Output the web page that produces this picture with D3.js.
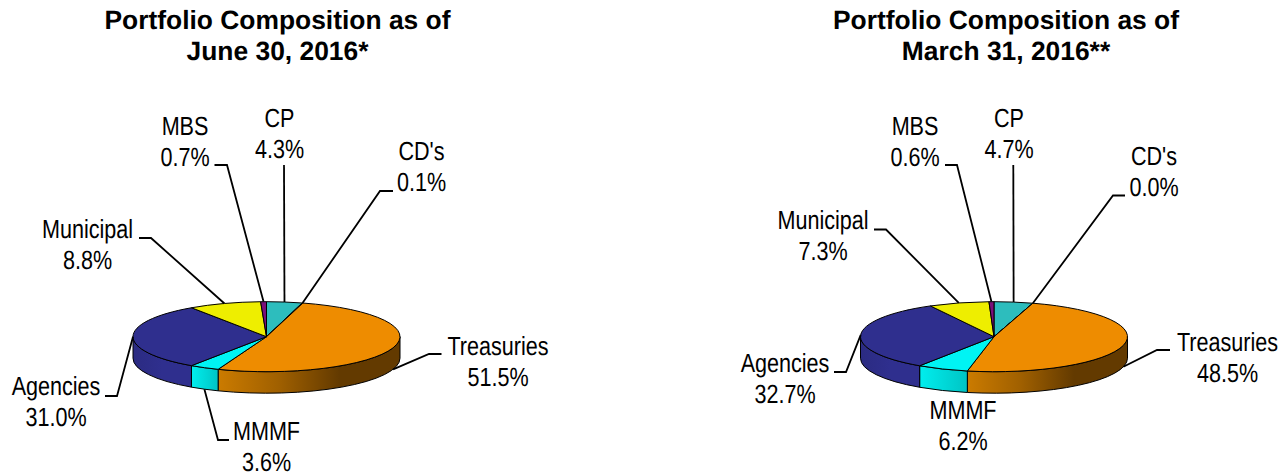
<!DOCTYPE html>
<html lang="en">
<head>
<meta charset="UTF-8">
<title>Portfolio Composition</title>
<script src="https://d3js.org/d3.v7.min.js"></script>
<style>
    html, body { margin: 0; padding: 0; background: #fff; }
    svg { display: block; }
    text { font-family: "Liberation Sans", Arial, sans-serif; fill: #000; text-rendering: geometricPrecision; }
</style>
</head>
<body>
<div id="plot"></div>
<script>
    // data
    var categories = ["CP", "CD's", "Treasuries", "MMMF", "Agencies", "Municipal", "MBS"];
    var june2016 = [4.3, 0.1, 51.5, 3.6, 31.0, 8.8, 0.7];
    var march2016 = [4.7, 0.0, 48.5, 6.2, 32.7, 7.3, 0.6];

    // colours per category
    var topColors = ["#2dbdbd", "#2dbdbd", "#ee8c00", "#00f4f4", "#2f2f8e", "#eeee00", "#7a0f7a"];
    var sideStops = [
        ["#2dbdbd", "#2dbdbd"], ["#2dbdbd", "#2dbdbd"],
        ["#cb7b00", "#a06000", "#633a00", "#633a00"],
        ["#00eeee", "#00c4c4"],
        ["#2b2b82", "#2f2f8e", "#2f2f8e"],
        ["#eeee00", "#eeee00"], ["#7a0f7a", "#7a0f7a"]
    ];

    // label placement, same order as categories: [text x, first baseline, tail, elbow]
    var juneLayout = [
        [279.5, 127, [284, 165], null],
        [421.5, 160, [393, 191], [380, 191]],
        [498, 355, [441.5, 354], [429, 354]],
        [266.5, 440, [229, 440], [218, 440]],
        [56, 395, [105, 396], [117, 396]],
        [87.5, 238, [139, 238], [151, 238]],
        [185, 134.5, [214.5, 165], [227, 165]]
    ];
    var marchLayout = [
        [1009, 127, [1013.3, 165], null],
        [1154, 165, [1125, 195.5], [1113, 195.5]],
        [1227.5, 351, [1170, 350], [1157, 350]],
        [963, 419, null, null],
        [785, 372, [834, 372], [846, 372]],
        [823, 229, [874, 229.5], [886, 229.5]],
        [915, 134.5, [945, 165], [957, 165]]
    ];

    var width = 1287, height = 476;
    var rx = 133.5, ry = 35, depth = 21.5, cy = 336.7;
    var lineGap = 31;

    var svg = d3.select("#plot").append("svg")
        .attr("width", width)
        .attr("height", height);
    var defs = svg.append("defs");

    var pie = d3.pie().sort(null).value(function (d) { return d; });

    // angle is clockwise from 12 o'clock, like d3.pie
    function rim(cx, a, down) {
        return [cx + rx * Math.sin(a), cy - ry * Math.cos(a) + (down || 0)];
    }

    function sidePath(cx, a0, a1) {
        var p0 = rim(cx, a0), p1 = rim(cx, a1);
        var p2 = rim(cx, a1, depth), p3 = rim(cx, a0, depth);
        return "M" + p0 + "A" + rx + "," + ry + " 0 0 1 " + p1 +
            "L" + p2 + "A" + rx + "," + ry + " 0 0 0 " + p3 + "Z";
    }

    function drawPie(id, cx, values, layout, titleX, titleLines) {
        var g = svg.append("g").attr("id", id);
        var arcs = pie(values);

        titleLines.forEach(function (t, i) {
            g.append("text")
                .attr("x", titleX)
                .attr("y", i ? 60 : 28.5)
                .attr("text-anchor", "middle")
                .attr("font-size", 26.4)
                .attr("font-weight", "bold")
                .text(t);
        });

        // visible side wall
        arcs.forEach(function (d, i) {
            var a0 = Math.max(d.startAngle, Math.PI / 2);
            var a1 = Math.min(d.endAngle, Math.PI * 3 / 2);
            if (a1 <= a0) return;
            var gid = id + "-side-" + i;
            var grad = defs.append("linearGradient").attr("id", gid);
            sideStops[i].forEach(function (c, k, all) {
                grad.append("stop")
                    .attr("offset", k / (all.length - 1))
                    .attr("stop-color", c);
            });
            g.append("path")
                .attr("d", sidePath(cx, a0, a1))
                .attr("fill", "url(#" + gid + ")")
                .attr("stroke", "#000")
                .attr("stroke-width", 1)
                .attr("stroke-linejoin", "round");
        });

        // top face, a round arc squashed to an ellipse
        var arc = d3.arc().innerRadius(0).outerRadius(rx);
        g.append("g")
            .attr("transform", "translate(" + cx + "," + cy + ") scale(1," + (ry / rx) + ")")
            .selectAll("path")
            .data(arcs)
            .join("path")
            .attr("d", arc)
            .attr("fill", function (d, i) { return topColors[i]; })
            .attr("stroke", "#000")
            .attr("stroke-width", 1)
            .attr("stroke-linejoin", "round")
            .attr("vector-effect", "non-scaling-stroke");

        // leader lines start on the slice mid angle
        var line = d3.line();
        arcs.forEach(function (d, i) {
            var lay = layout[i];
            if (lay[2]) {
                var mid = (d.startAngle + d.endAngle) / 2;
                var down = Math.cos(mid) < -0.01 ? depth : 0;
                var pts = [lay[2]];
                if (lay[3]) pts.push(lay[3]);
                pts.push(rim(cx, mid, down));
                g.append("path")
                    .attr("d", line(pts))
                    .attr("fill", "none")
                    .attr("stroke", "#000")
                    .attr("stroke-width", 1.8);
            }

            var label = g.append("g")
                .attr("transform", "translate(" + lay[0] + "," + lay[1] + ") scale(0.82,1)")
                .attr("font-size", 26.3)
                .attr("text-anchor", "middle");
            label.append("text").text(categories[i]);
            label.append("text").attr("y", lineGap).text(d.value.toFixed(1) + "%");
        });
    }

    drawPie("june", 266.5, june2016, juneLayout, 277.5,
        ["Portfolio Composition as of", "June 30, 2016*"]);
    drawPie("march", 994, march2016, marchLayout, 1006,
        ["Portfolio Composition as of", "March 31, 2016**"]);
</script>
</body>
</html>
